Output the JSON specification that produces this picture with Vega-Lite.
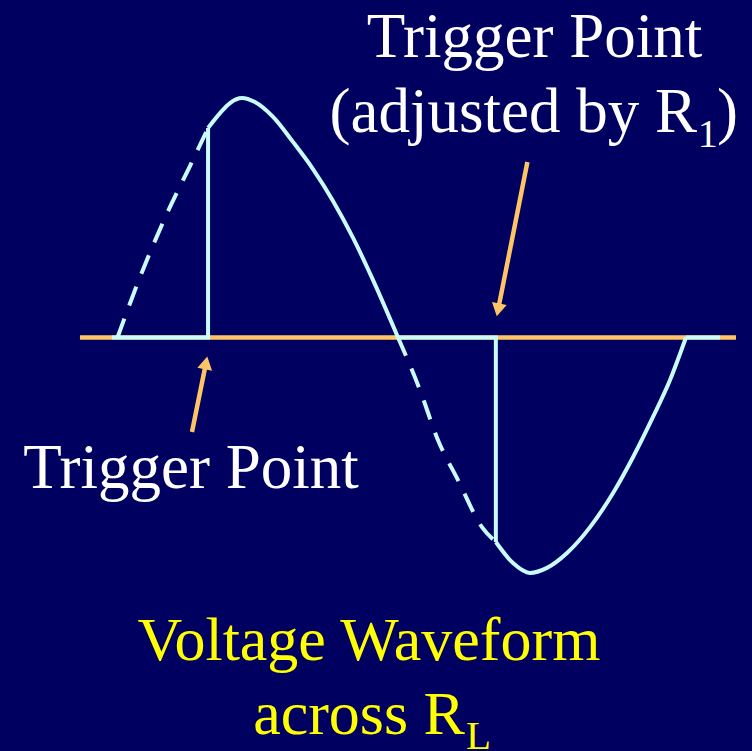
{
  "$schema": "https://vega.github.io/schema/vega-lite/v6.json",
  "width": 752,
  "height": 751,
  "autosize": {"type": "none"},
  "padding": 0,
  "background": "#000060",
  "config": {"view": {"stroke": null}, "axis": {"disable": true}},
  "datasets": {
    "wave": [
      {"part": "axis", "order": 1, "t": -23.8, "v": 0},
      {"part": "axis", "order": 2, "t": 392.0, "v": 0},
      {"part": "dash1", "order": 1, "t": 0.0, "v": 0.0},
      {"part": "dash1", "order": 2, "t": 14.3, "v": 0.252},
      {"part": "dash1", "order": 3, "t": 33.3, "v": 0.544},
      {"part": "dash1", "order": 4, "t": 46.0, "v": 0.715},
      {"part": "dash1", "order": 5, "t": 57.4, "v": 0.873},
      {"part": "dash2", "order": 1, "t": 177.8, "v": 0.0},
      {"part": "dash2", "order": 2, "t": 191.7, "v": -0.219},
      {"part": "dash2", "order": 3, "t": 203.1, "v": -0.427},
      {"part": "dash2", "order": 4, "t": 215.8, "v": -0.594},
      {"part": "dash2", "order": 5, "t": 231.0, "v": -0.79},
      {"part": "dash2", "order": 6, "t": 239.8, "v": -0.852},
      {"part": "flat1", "order": 1, "t": -3.5, "v": 0},
      {"part": "flat1", "order": 2, "t": 57.4, "v": 0},
      {"part": "flat1", "order": 3, "t": 57.4, "v": 0.873},
      {"part": "flat2", "order": 1, "t": 177.8, "v": 0},
      {"part": "flat2", "order": 2, "t": 239.8, "v": 0},
      {"part": "flat2", "order": 3, "t": 239.8, "v": -0.852},
      {"part": "flat3", "order": 1, "t": 360.3, "v": 0},
      {"part": "flat3", "order": 2, "t": 381.9, "v": 0},
      {"part": "curve1", "order": 1, "t": 57.4, "v": 0.873},
      {"part": "curve1", "order": 2, "t": 65.0, "v": 0.935},
      {"part": "curve1", "order": 3, "t": 71.3, "v": 0.977},
      {"part": "curve1", "order": 4, "t": 78.9, "v": 0.998},
      {"part": "curve1", "order": 5, "t": 87.1, "v": 0.981},
      {"part": "curve1", "order": 6, "t": 98.6, "v": 0.919},
      {"part": "curve1", "order": 7, "t": 111.2, "v": 0.815},
      {"part": "curve1", "order": 8, "t": 123.9, "v": 0.702},
      {"part": "curve1", "order": 9, "t": 136.6, "v": 0.569},
      {"part": "curve1", "order": 10, "t": 149.3, "v": 0.415},
      {"part": "curve1", "order": 11, "t": 161.9, "v": 0.24},
      {"part": "curve1", "order": 12, "t": 177.8, "v": 0.0},
      {"part": "curve2", "order": 1, "t": 239.8, "v": -0.852},
      {"part": "curve2", "order": 2, "t": 250.7, "v": -0.94},
      {"part": "curve2", "order": 3, "t": 261.4, "v": -0.981},
      {"part": "curve2", "order": 4, "t": 272.2, "v": -0.96},
      {"part": "curve2", "order": 5, "t": 284.9, "v": -0.898},
      {"part": "curve2", "order": 6, "t": 299.5, "v": -0.79},
      {"part": "curve2", "order": 7, "t": 314.1, "v": -0.648},
      {"part": "curve2", "order": 8, "t": 326.8, "v": -0.498},
      {"part": "curve2", "order": 9, "t": 339.4, "v": -0.331},
      {"part": "curve2", "order": 10, "t": 350.2, "v": -0.177},
      {"part": "curve2", "order": 11, "t": 360.3, "v": 0.0}
    ],
    "arrows": [
      {"id": "R1", "t": 259.8, "v": 0.731, "t2": 241.2, "v2": 0.115},
      {"id": "base", "t": 47.2, "v": -0.394, "t2": 56.1, "v2": -0.106}
    ],
    "labels": [
      {"role": "whiteC", "label": "Trigger Point", "t": 264.3, "v": 1.169},
      {"role": "whiteC", "label": "Trigger Point", "t": 46.6, "v": -0.627},
      {"role": "whiteR", "label": "(adjusted by R", "t": 367.3, "v": 0.856},
      {"role": "whiteSub", "label": "1", "t": 367.7, "v": 0.794},
      {"role": "whiteL", "label": ")", "t": 380.0, "v": 0.856},
      {"role": "yellowC", "label": "Voltage Waveform", "t": 159.4, "v": -1.344},
      {"role": "yellowR", "label": "across R", "t": 220.2, "v": -1.652},
      {"role": "yellowSub", "label": "L", "t": 220.9, "v": -1.715}
    ]
  },
  "encoding": {
    "x": {"field": "t", "type": "quantitative", "scale": {"domain": [-74.47, 402.15], "nice": false, "zero": false}, "axis": null},
    "y": {"field": "v", "type": "quantitative", "scale": {"domain": [-1.7229, 1.40625], "nice": false, "zero": false}, "axis": null}
  },
  "layer": [
    {
      "data": {"name": "wave"},
      "transform": [{"filter": "datum.part == 'axis'"}],
      "mark": {"type": "line", "color": "#FFC466", "strokeWidth": 4.5},
      "encoding": {"order": {"field": "order", "type": "quantitative"}}
    },
    {
      "data": {"name": "wave"},
      "transform": [{"filter": "datum.part == 'dash1' || datum.part == 'dash2'"}],
      "mark": {"type": "line", "color": "#C8FCFF", "strokeWidth": 4, "strokeDash": [20, 14], "interpolate": "monotone"},
      "encoding": {"detail": {"field": "part"}, "order": {"field": "order", "type": "quantitative"}}
    },
    {
      "data": {"name": "wave"},
      "transform": [{"filter": "indexof(datum.part, 'flat') == 0"}],
      "mark": {"type": "line", "color": "#C8FCFF", "strokeWidth": 4},
      "encoding": {"detail": {"field": "part"}, "order": {"field": "order", "type": "quantitative"}}
    },
    {
      "data": {"name": "wave"},
      "transform": [{"filter": "indexof(datum.part, 'curve') == 0"}],
      "mark": {"type": "line", "color": "#C8FCFF", "strokeWidth": 4, "interpolate": "monotone"},
      "encoding": {"detail": {"field": "part"}, "order": {"field": "order", "type": "quantitative"}}
    },
    {
      "data": {"name": "arrows"},
      "mark": {"type": "rule", "color": "#FFC466", "strokeWidth": 4.5},
      "encoding": {
        "x2": {"field": "t2"},
        "y2": {"field": "v2"}
      }
    },
    {
      "data": {"name": "arrows"},
      "transform": [{"filter": "datum.id == 'R1'"}],
      "mark": {"type": "point", "shape": "triangle-up", "filled": true, "color": "#FFC466", "opacity": 1, "size": 225, "angle": 191.4},
      "encoding": {
        "x": {"field": "t2", "type": "quantitative"},
        "y": {"field": "v2", "type": "quantitative"}
      }
    },
    {
      "data": {"name": "arrows"},
      "transform": [{"filter": "datum.id == 'base'"}],
      "mark": {"type": "point", "shape": "triangle-up", "filled": true, "color": "#FFC466", "opacity": 1, "size": 225, "angle": 11.4},
      "encoding": {
        "x": {"field": "t2", "type": "quantitative"},
        "y": {"field": "v2", "type": "quantitative"}
      }
    },
    {
      "data": {"name": "labels"},
      "transform": [{"filter": "datum.role == 'whiteC'"}],
      "mark": {"type": "text", "font": "Liberation Serif", "fontSize": 63, "color": "#FFFFFF", "align": "center", "baseline": "alphabetic"},
      "encoding": {"text": {"field": "label"}}
    },
    {
      "data": {"name": "labels"},
      "transform": [{"filter": "datum.role == 'whiteR'"}],
      "mark": {"type": "text", "font": "Liberation Serif", "fontSize": 63, "color": "#FFFFFF", "align": "right", "baseline": "alphabetic"},
      "encoding": {"text": {"field": "label"}}
    },
    {
      "data": {"name": "labels"},
      "transform": [{"filter": "datum.role == 'whiteL'"}],
      "mark": {"type": "text", "font": "Liberation Serif", "fontSize": 63, "color": "#FFFFFF", "align": "left", "baseline": "alphabetic"},
      "encoding": {"text": {"field": "label"}}
    },
    {
      "data": {"name": "labels"},
      "transform": [{"filter": "datum.role == 'whiteSub'"}],
      "mark": {"type": "text", "font": "Liberation Serif", "fontSize": 40, "color": "#FFFFFF", "align": "left", "baseline": "alphabetic"},
      "encoding": {"text": {"field": "label"}}
    },
    {
      "data": {"name": "labels"},
      "transform": [{"filter": "datum.role == 'yellowC'"}],
      "mark": {"type": "text", "font": "Liberation Serif", "fontSize": 62, "color": "#FFFF00", "align": "center", "baseline": "alphabetic"},
      "encoding": {"text": {"field": "label"}}
    },
    {
      "data": {"name": "labels"},
      "transform": [{"filter": "datum.role == 'yellowR'"}],
      "mark": {"type": "text", "font": "Liberation Serif", "fontSize": 62, "color": "#FFFF00", "align": "right", "baseline": "alphabetic"},
      "encoding": {"text": {"field": "label"}}
    },
    {
      "data": {"name": "labels"},
      "transform": [{"filter": "datum.role == 'yellowSub'"}],
      "mark": {"type": "text", "font": "Liberation Serif", "fontSize": 41, "color": "#FFFF00", "align": "left", "baseline": "alphabetic"},
      "encoding": {"text": {"field": "label"}}
    }
  ]
}
